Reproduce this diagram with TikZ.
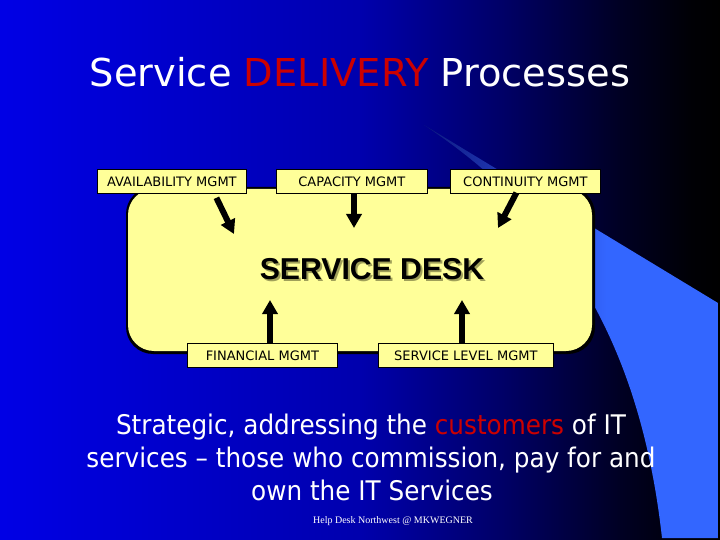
\documentclass[tikz,border=0pt]{standalone}
\usepackage{fontspec}
\usetikzlibrary{arrows.meta}
\setmainfont{DejaVu Sans}
\newfontfamily\bodyfam{DejaVu Sans}[FakeStretch=0.915]
\newfontfamily\desk{Liberation Sans}[BoldFont={Liberation Sans Bold}]
\newfontfamily\foot{Liberation Serif}
\definecolor{pale}{HTML}{FFFF99}
\definecolor{hot}{HTML}{CC0000}
\pgfdeclarehorizontalshading{bgshade}{100bp}{rgb(0bp)=(0,0,.9); rgb(25bp)=(0,0,.9); rgb(50bp)=(0,0,.68); rgb(60bp)=(0,0,.4); rgb(68bp)=(0,0,.14); rgb(73bp)=(0,0,.02); rgb(75bp)=(0,0,0); rgb(100bp)=(0,0,0)}
\pgfdeclarehorizontalshading{swoosh}{100bp}{rgb(0bp)=(0,.05,.5); rgb(25bp)=(.05,.1,.5); rgb(48bp)=(.18,.3,.85); rgb(56bp)=(.2,.4,1); rgb(100bp)=(.2,.4,1)}
\tikzset{
  mgmt/.style={draw=black,line width=.8pt,fill=pale,minimum height=24pt,inner sep=0pt,font=\fontsize{13}{15}\selectfont,text=black,anchor=north west},
  flow/.style={line width=6pt,draw=black,-{Triangle[length=14pt,width=15pt]}},
  white text/.style={text=white,anchor=base},
  bigline/.style={white text,font=\bodyfam\fontsize{27}{30}\selectfont}
}
\begin{document}
\begin{tikzpicture}[x=1pt,y=-1pt]
\useasboundingbox (0,0) rectangle (720,540);
\shade[shading=bgshade] (0,0) rectangle (720,540);
\begin{scope}
\clip (424,125) -- (718,303) -- (718,538) -- (662,538) .. controls (640,340) and (560,215) .. (424,125) -- cycle;
\shade[shading=swoosh] (424,100) rectangle (718,540);
\end{scope}
\fill[black,rounded corners=27pt] (126,187) rectangle (595,354);
\fill[pale,rounded corners=26pt] (128,189) rectangle (592,351);
\node[white text,font=\fontsize{38.4}{44}\selectfont] (title) at (360,87) {Service \textcolor{hot}{DELIVERY} Processes};
\node[anchor=base,text={rgb,255:red,160;green,160;blue,90},font=\desk\bfseries\fontsize{30.2}{35}\selectfont] (deskshadow) at (374,281) {SERVICE DESK};
\node[anchor=base,text=black,font=\desk\bfseries\fontsize{30.2}{35}\selectfont] (desk) at (372,279) {SERVICE DESK};
\node[mgmt,minimum width=149pt] (avail) at (97,169) {AVAILABILITY MGMT};
\node[mgmt,minimum width=151pt] (capa) at (276,169) {CAPACITY MGMT};
\node[mgmt,minimum width=150pt] (cont) at (450,169) {CONTINUITY MGMT};
\node[mgmt,minimum width=150pt] (fin) at (187,343) {FINANCIAL MGMT};
\node[mgmt,minimum width=175pt] (lvl) at (378,343) {SERVICE LEVEL MGMT};
\coordinate (a1) at (234,234);
\coordinate (a2) at (354,228);
\coordinate (a3) at (498,228);
\coordinate (a4) at (270,300);
\coordinate (a5) at (462,300);
\draw[flow] ([xshift=44.5pt,yshift=-4pt]avail.south) -- (a1);
\draw[flow] ([xshift=2.1pt]capa.south) -- (a2);
\draw[flow] ([xshift=-9pt,yshift=1pt]cont.south) -- (a3);
\draw[flow] ([xshift=7.6pt]fin.north) -- (a4);
\draw[flow] ([xshift=-3.9pt]lvl.north) -- (a5);
\node[bigline] (l1) at (371,434) {Strategic, addressing the \textcolor{hot}{customers} of IT};
\node[bigline] (l2) at (371,467) {services – those who commission, pay for and};
\node[bigline] (l3) at (372,500) {own the IT Services};
\node[white text,font=\foot\fontsize{10}{12}\selectfont] (ft) at (393,523) {Help Desk Northwest @ MKWEGNER};
\end{tikzpicture}
\end{document}
